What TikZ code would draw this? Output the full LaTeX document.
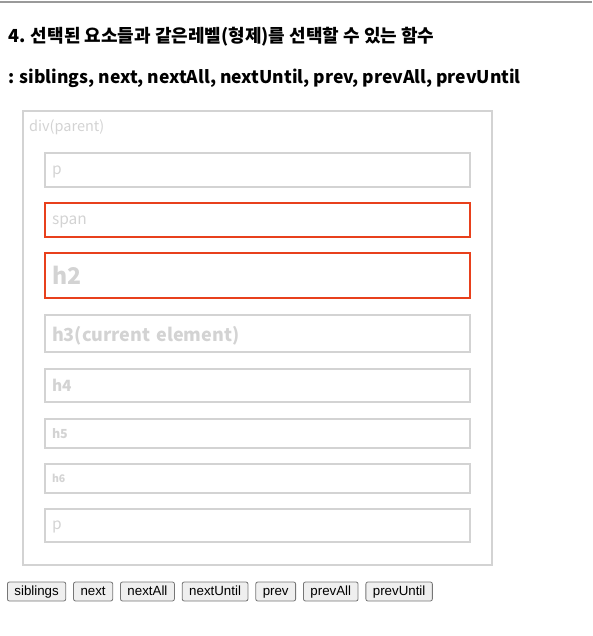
\documentclass[tikz,border=0pt]{standalone}
\usepackage{fontspec}
\setmainfont{Noto Sans CJK KR}
\newfontfamily\btnfont{Liberation Sans}
\usepackage{tikz}
\usetikzlibrary{positioning}

\definecolor{boxgray}{HTML}{D3D3D3}
\definecolor{txtgray}{HTML}{D3D3D3}
\definecolor{selred}{HTML}{E8401C}
\definecolor{btnfill}{HTML}{EFEFEF}
\definecolor{btnline}{HTML}{767676}
\definecolor{rulegray}{HTML}{9A9A9A}

\tikzset{
	elem/.style={draw=boxgray, line width=2pt, anchor=north west, minimum width=425pt,
		text width=411pt, inner xsep=7pt, align=left, text=txtgray, text depth=0pt},
	selected/.style={draw=selred},
	btn/.style={draw=btnline, fill=btnfill, rounded corners=2pt, line width=0.8pt, anchor=west,
		minimum height=19pt, inner xsep=7pt, inner ysep=0pt, text height=9.5pt, text depth=2.5pt,
		font=\btnfont\fontsize{13.3}{15}\selectfont},
	heading/.style={anchor=base west, inner sep=0pt, font=\bfseries\fontsize{17.5}{20}\selectfont}
}

\begin{document}
\begin{tikzpicture}[x=1pt,y=-1pt]
		\useasboundingbox (0,0) rectangle (592,636);

		\draw[rulegray, line width=1.2pt] (0,2) -- (592,2);

		\node[heading, font=\bfseries\fontsize{18}{20}\selectfont] (title) at (8,43) {4. 선택된 요소들과 같은레벨(형제)를 선택할 수 있는 함수};
		\node[heading] (funcs) at (8,84) {: siblings, next, nextAll, nextUntil, prev, prevAll, prevUntil};

		% parent div
		\node[draw=boxgray, line width=2pt, anchor=north west, minimum width=469pt, minimum height=454pt] (parent) at (22,110) {};
		\node[anchor=base west, inner sep=0pt, text=txtgray, font=\fontsize{14.5}{16}\selectfont] (parentlabel) at (29,132) {div(parent)};

		% siblings
		\node[elem, minimum height=34pt, font=\fontsize{15.5}{18}\selectfont] (p1) at (44,152) {p};
		\node[elem, selected, minimum height=34pt, font=\fontsize{15.5}{18}\selectfont] (span) at (44,202) {span};
		\node[elem, selected, minimum height=45pt, font=\bfseries\fontsize{23}{26}\selectfont] (h2) at (44,252) {h2};
		\node[elem, minimum height=37pt, font=\bfseries\fontsize{18}{20}\selectfont] (h3) at (44,314) {h3(current element)};
		\node[elem, minimum height=33pt, font=\bfseries\fontsize{15.5}{18}\selectfont] (h4) at (44,368) {h4};
		\node[elem, minimum height=29pt, font=\bfseries\fontsize{12.5}{14}\selectfont] (h5) at (44,418) {h5};
		\node[elem, minimum height=29pt, font=\bfseries\fontsize{10.5}{12}\selectfont] (h6) at (44,463) {h6};
		\node[elem, minimum height=33pt, font=\fontsize{15.5}{18}\selectfont] (p2) at (44,508) {p};

		% buttons
		\node[btn] (bsiblings) at (7,591.5) {siblings};
		\node[btn, right=7pt of bsiblings] (bnext) {next};
		\node[btn, right=7pt of bnext] (bnextall) {nextAll};
		\node[btn, right=7pt of bnextall] (bnextuntil) {nextUntil};
		\node[btn, right=7pt of bnextuntil] (bprev) {prev};
		\node[btn, right=7pt of bprev] (bprevall) {prevAll};
		\node[btn, right=7pt of bprevall] (bprevuntil) {prevUntil};
	\end{tikzpicture}
\end{document}
